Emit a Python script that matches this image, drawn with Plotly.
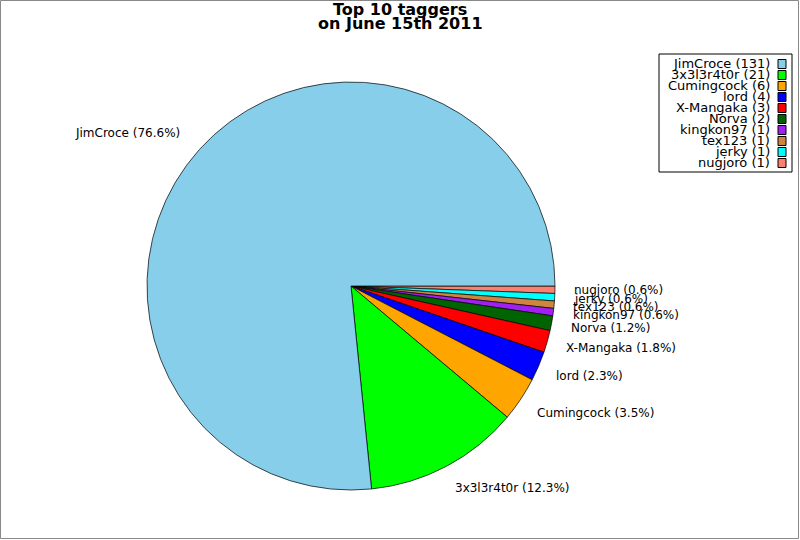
import math
import plotly.graph_objects as go

# top taggers and their tag counts
taggers = ['JimCroce', '3x3l3r4t0r', 'Cumingcock', 'lord', 'X-Mangaka',
           'Norva', 'kingkon97', 'tex123', 'jerky', 'nugjoro']
counts = [131, 21, 6, 4, 3, 2, 1, 1, 1, 1]
colors = ['#87CEEB', '#00FF00', '#FFA500', '#0000FF', '#FF0000',
          '#006400', '#A020F0', '#CD853F', '#00FFFF', '#FA8072']

W, H = 800, 540
FONT = 'DejaVu Sans'

# pie placement in pixels
CX, CY, R = 351, 286, 204

def px(x, y):
    return x / W, 1 - y / H

# slices go counterclockwise from 3 o'clock; plotly's ccw mode anchors
# the first slice differently, so feed the list reversed and go clockwise
fig = go.Figure(go.Pie(
    labels=taggers[::-1],
    values=counts[::-1],
    sort=False,
    direction='clockwise',
    rotation=90,
    marker=dict(colors=colors[::-1], line=dict(color='black', width=0.7)),
    textinfo='none',
    showlegend=False,
    hoverinfo='label+value+percent',
    domain=dict(x=[(CX - R) / W, (CX + R) / W],
                y=[1 - (CY + R) / H, 1 - (CY - R) / H]),
))

annotations = []

# slice labels just outside the pie on each slice's middle angle
total = sum(counts)
start = 0.0
for name, n in zip(taggers, counts):
    span = 360.0 * n / total
    mid = math.radians(start + span / 2)
    start += span
    lx = CX - 3 + 1.1 * R * math.cos(mid)
    ly = CY - 1.12 * R * math.sin(mid)
    x, y = px(lx, ly)
    annotations.append(dict(
        xref='paper', yref='paper', x=x, y=y,
        xanchor='left' if lx > CX else 'right', yanchor='middle',
        showarrow=False, text=f'{name} ({100 * n / total:.1f}%)',
        font=dict(family=FONT, size=12, color='black'),
    ))

# title, two tight lines
for text, yc in [('Top 10 taggers', 10), ('on June 15th 2011', 24)]:
    x, y = px(W / 2, yc)
    annotations.append(dict(
        xref='paper', yref='paper', x=x, y=y, xanchor='center',
        yanchor='middle', showarrow=False, text=f'<b>{text}</b>',
        font=dict(family=FONT, size=16, color='black'),
    ))

# legend box drawn by hand: text right aligned, colour square on the right
shapes = [
    dict(type='rect', xref='paper', yref='paper',
         x0=0.5 / W, x1=1 - 1.5 / W, y0=1.5 / H, y1=1 - 0.5 / H,
         line=dict(color='#888888', width=1)),
    dict(type='rect', xref='paper', yref='paper',
         x0=659 / W, x1=792 / W, y0=1 - 172 / H, y1=1 - 54 / H,
         line=dict(color='black', width=1), fillcolor='white'),
]
for i, (name, n, c) in enumerate(zip(taggers, counts, colors)):
    yc = 64 + i * 11
    x, y = px(772, yc)
    annotations.append(dict(
        xref='paper', yref='paper', x=x, y=y,
        xanchor='right', yanchor='middle', showarrow=False,
        text=f'{name} ({n})', font=dict(family=FONT, size=13, color='black'),
    ))
    shapes.append(dict(
        type='rect', xref='paper', yref='paper',
        x0=778 / W, x1=786 / W, y0=1 - (yc + 4.5) / H, y1=1 - (yc - 4.5) / H,
        line=dict(color='black', width=1), fillcolor=c,
    ))

fig.update_layout(
    width=W,
    height=H,
    margin=dict(l=0, r=0, t=0, b=0),
    paper_bgcolor='white',
    shapes=shapes,
    annotations=annotations,
)

fig.write_html('out.html', config={'displayModeBar': False},
               post_script="document.body.style.margin='0';")
